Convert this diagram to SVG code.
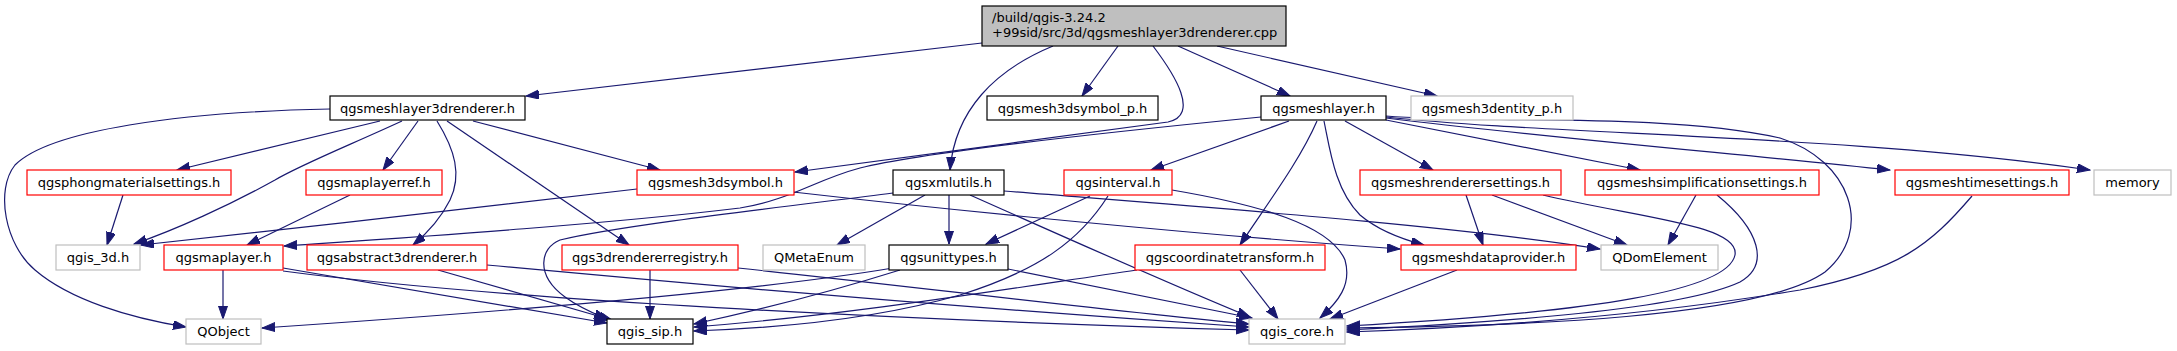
<svg xmlns="http://www.w3.org/2000/svg" width="2177" height="351" viewBox="0 0 2177 351">
<style>
.n rect{fill:#ffffff;stroke-width:1.2}
.blk rect{stroke:#000000}
.red rect{stroke:#ff0000}
.gry rect{stroke:#bfbfbf}
.top rect{fill:#bfbfbf;stroke:#000000}
text{font-family:"DejaVu Sans","Liberation Sans",sans-serif;font-size:13px;fill:#000000;text-anchor:middle}
.top text{text-anchor:start}
#edges path{fill:none;stroke:#191970;stroke-width:1.2;marker-end:url(#ah)}
</style>
<defs>
<marker id="ah" markerUnits="userSpaceOnUse" markerWidth="14" markerHeight="10" refX="13" refY="4.5" orient="auto">
<path d="M0,0 L13,4.5 L0,9 z" fill="#191970" stroke="#191970" stroke-width="1"/>
</marker>
</defs>
<rect width="2177" height="351" fill="#ffffff"/>
<g id="edges">
<path d="M982,43 L526,96"/>
<path d="M1053,46 C995,70 955,110 950,170"/>
<path d="M1118,46 L1082,96"/>
<path d="M1153,46 C1175,75 1200,115 1168,122 C1050,138 900,158 795,172"/>
<path d="M1178,46 L1290,96"/>
<path d="M1217,46 L1437,96"/>
<path d="M330,109 C180,112 50,130 15,165 C-5,190 5,245 35,270 C70,300 130,318 186,327"/>
<path d="M380,121 L177,170"/>
<path d="M402,121 C350,145 300,165 275,180 C230,205 175,230 134,244"/>
<path d="M418,121 L383,170"/>
<path d="M437,121 C455,150 462,175 450,200 C440,220 425,235 413,245"/>
<path d="M447,121 L629,245"/>
<path d="M473,121 L660,170"/>
<path d="M1261,117 C1150,128 930,150 860,168 C815,180 790,200 740,208 C600,225 400,238 284,246"/>
<path d="M1289,121 L1151,170"/>
<path d="M1317,121 C1300,160 1270,200 1240,245"/>
<path d="M1324,121 C1330,150 1335,190 1360,215 C1380,232 1405,240 1424,245"/>
<path d="M1345,121 L1433,170"/>
<path d="M1386,120 L1640,170"/>
<path d="M1386,118 C1550,138 1750,155 1890,170"/>
<path d="M1386,117 C1550,135 1850,135 2090,170"/>
<path d="M1386,116 C1480,124 1660,112 1780,138 C1850,160 1875,230 1825,272 C1760,318 1520,326 1347,328"/>
<path d="M123,195 L107,245"/>
<path d="M350,195 L247,245"/>
<path d="M637,189 C500,205 300,228 141,245"/>
<path d="M793,192 C950,210 1200,235 1400,249"/>
<path d="M893,193 C800,205 620,225 560,240 C540,248 535,275 565,297 C580,308 595,314 607,319"/>
<path d="M925,195 L837,245"/>
<path d="M949,195 L949,244"/>
<path d="M970,195 C1060,235 1160,280 1250,317"/>
<path d="M1004,191 C1200,207 1450,225 1600,249"/>
<path d="M1090,196 L986,244"/>
<path d="M1108,196 C1080,240 1040,270 960,295 C880,318 780,328 694,331"/>
<path d="M1172,190 C1260,205 1330,225 1345,260 C1352,285 1338,302 1320,318"/>
<path d="M1466,195 L1483,245"/>
<path d="M1492,195 L1627,245"/>
<path d="M1543,195 C1640,218 1740,225 1735,255 C1728,290 1600,312 1347,326"/>
<path d="M1696,195 L1668,245"/>
<path d="M1717,195 C1760,230 1770,265 1740,282 C1680,310 1500,322 1347,330"/>
<path d="M1972,196 C1930,245 1900,270 1800,290 C1650,315 1500,327 1347,332"/>
<path d="M223,270 L223,319"/>
<path d="M283,268 L607,323"/>
<path d="M283,271 C500,300 900,320 1249,330"/>
<path d="M438,270 L612,320"/>
<path d="M487,265 C700,285 1000,310 1249,327"/>
<path d="M650,270 L650,319"/>
<path d="M738,268 C900,285 1100,310 1249,324"/>
<path d="M893,268 C750,292 500,312 262,328"/>
<path d="M900,270 C820,295 760,310 694,324"/>
<path d="M1008,269 L1252,318"/>
<path d="M1137,270 C1000,290 850,315 694,327"/>
<path d="M1240,270 L1278,319"/>
<path d="M1457,270 L1330,319"/>
</g>
<g id="n_top" class="n top"><rect x="982" y="6" width="304" height="40"/><text x="992" y="22">/build/qgis-3.24.2</text><text x="992" y="37">+99sid/src/3d/qgsmeshlayer3drenderer.cpp</text></g>
<g id="n_meshlayer3drenderer" class="n blk"><rect x="330" y="96" width="195" height="24"/><text x="427.5" y="112.5">qgsmeshlayer3drenderer.h</text></g>
<g id="n_mesh3dsymbol_p" class="n blk"><rect x="987" y="96" width="171" height="24"/><text x="1072.5" y="112.5">qgsmesh3dsymbol_p.h</text></g>
<g id="n_meshlayer" class="n blk"><rect x="1261" y="96" width="125" height="24"/><text x="1323.5" y="112.5">qgsmeshlayer.h</text></g>
<g id="n_mesh3dentity_p" class="n gry"><rect x="1411" y="96" width="162" height="24"/><text x="1492" y="112.5">qgsmesh3dentity_p.h</text></g>
<g id="n_phong" class="n red"><rect x="27" y="170" width="204" height="25"/><text x="129" y="187">qgsphongmaterialsettings.h</text></g>
<g id="n_maplayerref" class="n red"><rect x="306" y="170" width="136" height="25"/><text x="374" y="187">qgsmaplayerref.h</text></g>
<g id="n_mesh3dsymbol" class="n red"><rect x="637" y="170" width="157" height="25"/><text x="715.5" y="187">qgsmesh3dsymbol.h</text></g>
<g id="n_xmlutils" class="n blk"><rect x="893" y="170" width="111" height="25"/><text x="948.5" y="187">qgsxmlutils.h</text></g>
<g id="n_interval" class="n red"><rect x="1064" y="170" width="108" height="25"/><text x="1118" y="187">qgsinterval.h</text></g>
<g id="n_renderersettings" class="n red"><rect x="1360" y="170" width="201" height="25"/><text x="1460.5" y="187">qgsmeshrenderersettings.h</text></g>
<g id="n_simplification" class="n red"><rect x="1585" y="170" width="234" height="25"/><text x="1702" y="187">qgsmeshsimplificationsettings.h</text></g>
<g id="n_timesettings" class="n red"><rect x="1895" y="170" width="174" height="25"/><text x="1982" y="187">qgsmeshtimesettings.h</text></g>
<g id="n_memory" class="n gry"><rect x="2094" y="170" width="77" height="25"/><text x="2132.5" y="187">memory</text></g>
<g id="n_qgis3d" class="n gry"><rect x="56" y="245" width="84" height="25"/><text x="98" y="262">qgis_3d.h</text></g>
<g id="n_maplayer" class="n red"><rect x="164" y="245" width="119" height="25"/><text x="223.5" y="262">qgsmaplayer.h</text></g>
<g id="n_abstract3d" class="n red"><rect x="307" y="245" width="180" height="25"/><text x="397" y="262">qgsabstract3drenderer.h</text></g>
<g id="n_registry" class="n red"><rect x="562" y="245" width="176" height="25"/><text x="650" y="262">qgs3drendererregistry.h</text></g>
<g id="n_qmetaenum" class="n gry"><rect x="763" y="245" width="102" height="25"/><text x="814" y="262">QMetaEnum</text></g>
<g id="n_unittypes" class="n blk"><rect x="889" y="245" width="119" height="25"/><text x="948.5" y="262">qgsunittypes.h</text></g>
<g id="n_coordtransform" class="n red"><rect x="1135" y="245" width="190" height="25"/><text x="1230" y="262">qgscoordinatetransform.h</text></g>
<g id="n_dataprovider" class="n red"><rect x="1401" y="245" width="175" height="25"/><text x="1488.5" y="262">qgsmeshdataprovider.h</text></g>
<g id="n_qdomelement" class="n gry"><rect x="1601" y="245" width="117" height="25"/><text x="1659.5" y="262">QDomElement</text></g>
<g id="n_qobject" class="n gry"><rect x="186" y="319" width="75" height="25"/><text x="223.5" y="336">QObject</text></g>
<g id="n_qgissip" class="n blk"><rect x="607" y="319" width="86" height="25"/><text x="650" y="336">qgis_sip.h</text></g>
<g id="n_qgiscore" class="n gry"><rect x="1249" y="319" width="96" height="25"/><text x="1297" y="336">qgis_core.h</text></g>
</svg>
